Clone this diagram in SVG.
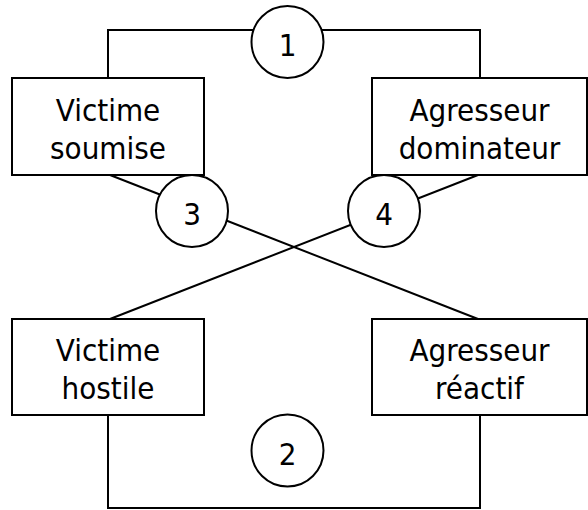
<svg xmlns="http://www.w3.org/2000/svg" width="588" height="510" viewBox="0 0 588 510">
<style>
.box{fill:#fff;stroke:#000;stroke-width:2}
.circ{fill:#fff;stroke:#000;stroke-width:2}
.ln{fill:none;stroke:#000;stroke-width:2}
text{font-family:"DejaVu Sans Condensed","DejaVu Sans",sans-serif;font-stretch:condensed;font-size:31px;fill:#000;text-anchor:middle}
</style>
<rect width="588" height="510" fill="#fff"/>
<g id="connectors">
<polyline class="ln" points="108,78 108,30 480,30 480,78"/>
<polyline class="ln" points="108,415 108,508 480,508 480,415"/>
<line class="ln" x1="110" y1="175" x2="478" y2="319"/>
<line class="ln" x1="478" y1="175" x2="110" y2="319"/>
</g>
<g id="victime-soumise">
<rect class="box" x="12" y="78" width="192" height="97"/>
<text x="108" y="121">Victime</text>
<text x="108" y="159">soumise</text>
</g>
<g id="agresseur-dominateur">
<rect class="box" x="372" y="78" width="215" height="97"/>
<text x="479.5" y="121">Agresseur</text>
<text x="479.5" y="159">dominateur</text>
</g>
<g id="victime-hostile">
<rect class="box" x="12" y="319" width="192" height="96"/>
<text x="108" y="361">Victime</text>
<text x="108" y="399">hostile</text>
</g>
<g id="agresseur-reactif">
<rect class="box" x="372" y="319" width="215" height="96"/>
<text x="479.5" y="361">Agresseur</text>
<text x="479.5" y="399">réactif</text>
</g>
<g id="c1">
<circle class="circ" cx="287.5" cy="42" r="36"/>
<text x="287.5" y="56">1</text>
</g>
<g id="c3">
<circle class="circ" cx="192" cy="211" r="36"/>
<text x="192" y="224.5">3</text>
</g>
<g id="c4">
<circle class="circ" cx="384" cy="211" r="36"/>
<text x="384" y="224.5">4</text>
</g>
<g id="c2">
<circle class="circ" cx="287.5" cy="450.5" r="36"/>
<text x="287.5" y="465">2</text>
</g>
</svg>
